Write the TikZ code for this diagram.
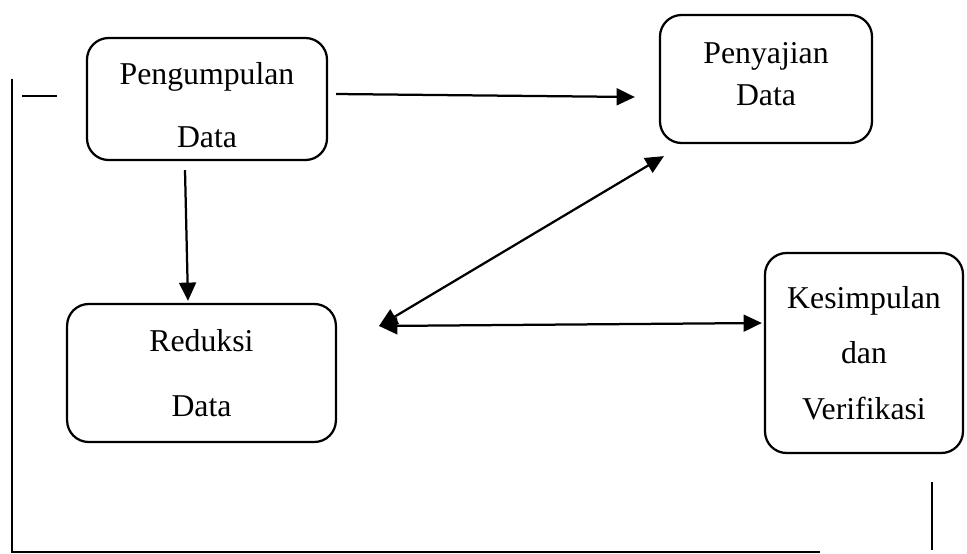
\documentclass[tikz,border=0pt]{standalone}
\usepackage{fontspec}
\setmainfont{Liberation Serif}
\usetikzlibrary{arrows.meta}
\usetikzlibrary{positioning}

\tikzset{
  tahap/.style={draw, line width=0.8pt, rounded corners=0.27cm, align=center,
    inner sep=0pt, font=\fontsize{11.3}{13.3}\selectfont},
  alur/.style={line width=0.8pt, -{Triangle[length=6.5pt,width=6pt]}},
  alurdua/.style={line width=0.8pt, {Triangle[length=6.5pt,width=6pt]}-{Triangle[length=6.5pt,width=6pt]}},
  garis/.style={line width=0.7pt},
}

\begin{document}
\begin{tikzpicture}[x=0.125cm,y=-0.125cm]
\useasboundingbox (0,0) rectangle (96.7,55.4);
% kotak tahapan
\node[tahap, minimum width=3cm, minimum height=1.525cm] (pd) at (20.7,9.9) {\rule{0pt}{12pt}Pengumpulan\\[9pt]Data};
\node[tahap, minimum width=2.65cm, minimum height=1.6cm] (pj) at (76.6,7.9) {Penyajian\\[1.7pt]Data\rule[-3.6pt]{0pt}{0pt}};
\node[tahap, minimum width=3.36cm, minimum height=1.725cm] (rd) at (20.15,37.3) {Reduksi\\[9.7pt]Data};
\node[tahap, minimum width=2.475cm, minimum height=2.5cm] (ks) at (86.4,35.3) {Kesimpulan\\[6.5pt]dan\\[6.5pt]Verifikasi};
\coordinate (hub) at ([shift={(4.2,-4.7)}]rd.east);
% panah
\draw[alur] ([shift={(0.8,-0.5)}]pd.east) -- ([shift={(-2.4,1.8)}]pj.west);
\draw[alur] ([shift={(-2.2,0.9)}]pd.south) -- ([shift={(-1.35,-0.2)}]rd.north);
\draw[alurdua] (hub) -- ([shift={(0.5,1.2)}]pj.south west);
\draw[alurdua] (hub) -- ([shift={(-0.2,-3.0)}]ks.west);
% bingkai
\draw[garis] (1.2,7.9) -- (1.2,55.2) -- (82,55.2);
\draw[garis] (2.2,9.6) -- (5.7,9.6);
\draw[garis] (93.2,48.2) -- (93.2,55);
\end{tikzpicture}
\end{document}
